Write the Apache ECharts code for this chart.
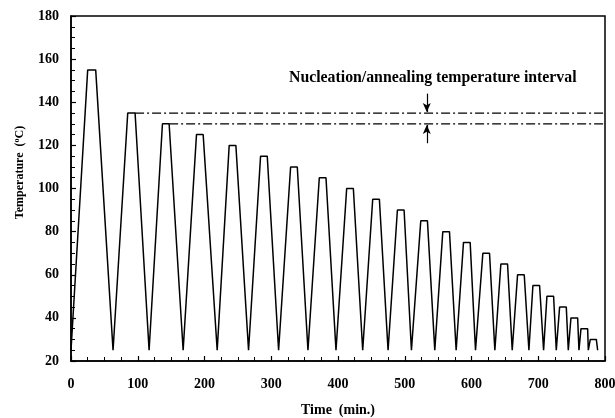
<!DOCTYPE html>
<html>
<head>
<meta charset="utf-8">
<script src="https://cdn.jsdelivr.net/npm/echarts@6/dist/echarts.min.js"></script>
<style>
  html, body { margin: 0; padding: 0; background: #fff; }
  #chart { width: 615px; height: 418px; }
</style>
</head>
<body>
<div id="chart"></div>
<script>
// temperature program (min, deg C)
const timeMin = [
  0, 25, 37, 63,
  85, 96, 117,
  137, 147, 168,
  188, 198, 219,
  237, 247, 266,
  284, 294, 311,
  329, 339, 355,
  372, 382, 397,
  413, 423, 437,
  452, 462, 475,
  489, 499, 510,
  524, 534, 545,
  557, 567, 577,
  588, 598, 606,
  617, 627, 635,
  644, 654, 661,
  669, 679, 686,
  692, 702, 708,
  713, 723, 727,
  732, 742, 745,
  749, 759, 761,
  764, 774, 775,
  778, 787, 789
];
const tempC = [
  25, 155, 155, 25,
  135, 135, 25,
  130, 130, 25,
  125, 125, 25,
  120, 120, 25,
  115, 115, 25,
  110, 110, 25,
  105, 105, 25,
  100, 100, 25,
  95, 95, 25,
  90, 90, 25,
  85, 85, 25,
  80, 80, 25,
  75, 75, 25,
  70, 70, 25,
  65, 65, 25,
  60, 60, 25,
  55, 55, 25,
  50, 50, 25,
  45, 45, 25,
  40, 40, 25,
  35, 35, 25,
  30, 30, 25
];
// nucleation/annealing interval guide lines
const upperLine = [[96, 135], [800, 135]];
const lowerLine = [[147, 130], [800, 130]];
const arrowTime = 533;
const arrowDown = [[arrowTime, 144], [arrowTime, 135.5]];
const arrowUp = [[arrowTime, 121], [arrowTime, 129.5]];

const xTicks = [0, 800, 100];
const yTicks = [20, 180, 20];

const font = 'Liberation Serif';
const chart = echarts.init(document.getElementById('chart'));

const series = [];
series.push({
  type: 'line',
  data: timeMin.map((t, i) => [t, tempC[i]]),
  showSymbol: false,
  lineStyle: { color: '#000', width: 1.5 },
  silent: true
});
[upperLine, lowerLine].forEach(d => {
  series.push({
    type: 'line',
    data: d,
    showSymbol: false,
    lineStyle: { color: '#000', width: 1.3, type: [9, 3, 2, 3] },
    silent: true
  });
});
[arrowDown, arrowUp].forEach(d => {
  series.push({
    type: 'line',
    data: d,
    showSymbol: false,
    lineStyle: { opacity: 0 },
    silent: true,
    markLine: {
      silent: true,
      symbol: ['none', 'arrow'],
      symbolSize: [6, 9],
      label: { show: false },
      lineStyle: { color: '#000', width: 1.2, type: 'solid' },
      data: [[{ coord: d[0] }, { coord: d[1] }]]
    }
  });
});

chart.setOption({
  animation: false,
  backgroundColor: '#fff',
  grid: {
    left: 71, right: 10, top: 16, bottom: 57,
    outerBoundsMode: 'none',
    containLabel: false,
    show: true, borderColor: '#000', borderWidth: 1.5
  },
  xAxis: {
    type: 'value',
    min: xTicks[0], max: xTicks[1], interval: xTicks[2],
    name: 'Time  (min.)',
    nameLocation: 'middle',
    nameGap: 42,
    nameTextStyle: { fontFamily: font, fontWeight: 'bold', fontSize: 14, color: '#000' },
    axisLine: { lineStyle: { color: '#000', width: 1.5 } },
    axisTick: { inside: true, length: 5, lineStyle: { color: '#000', width: 1.2 } },
    minorTick: { show: true, splitNumber: 4, length: 4, lineStyle: { color: '#000', width: 1 } },
    axisLabel: { fontFamily: font, fontWeight: 'bold', fontSize: 14, color: '#000', margin: 16 },
    splitLine: { show: false }
  },
  yAxis: {
    type: 'value',
    min: yTicks[0], max: yTicks[1], interval: yTicks[2],
    name: '{a|Temperature  (}{s|o}{a|C)}',
    nameLocation: 'middle',
    nameGap: 44,
    nameTextStyle: {
      padding: [0, 0, 0, 32],
      rich: {
        a: { fontFamily: font, fontWeight: 'bold', fontSize: 12, color: '#000' },
        s: { fontFamily: font, fontWeight: 'bold', fontSize: 8, color: '#000', verticalAlign: 'top', padding: [0, 0, 6, 0] }
      }
    },
    axisLine: { lineStyle: { color: '#000', width: 1.5 } },
    axisTick: { inside: true, length: 5, lineStyle: { color: '#000', width: 1.2 } },
    minorTick: { show: true, splitNumber: 4, length: 4, lineStyle: { color: '#000', width: 1 } },
    axisLabel: { fontFamily: font, fontWeight: 'bold', fontSize: 14, color: '#000', margin: 12 },
    splitLine: { show: false }
  },
  graphic: [{
    type: 'text',
    left: 289,
    top: 70,
    style: {
      text: 'Nucleation/annealing temperature interval',
      font: 'bold 15.8px "Liberation Serif"',
      fill: '#000'
    }
  }],
  series: series
});
</script>
</body>
</html>
